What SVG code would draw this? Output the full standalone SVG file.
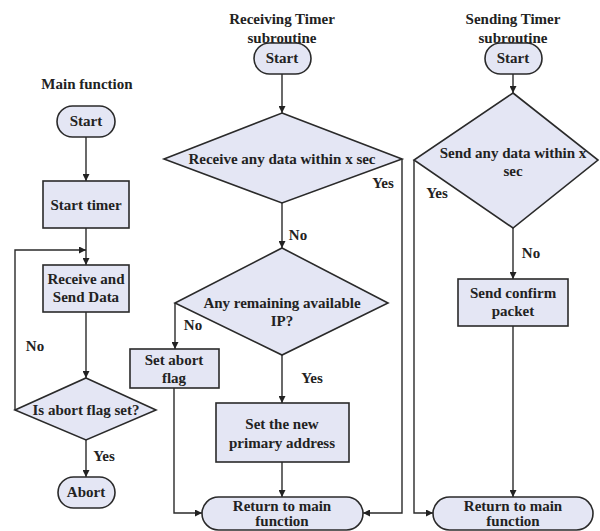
<svg xmlns="http://www.w3.org/2000/svg" width="600" height="531" viewBox="0 0 600 531">
<defs>
<marker id="ah" viewBox="0 0 10 10" refX="10" refY="5" markerWidth="7" markerHeight="7" orient="auto" markerUnits="userSpaceOnUse">
<path d="M0,0 L10,5 L0,10 z" fill="#222"/>
</marker>
<style>
.s{fill:#e4e6f4;stroke:#2a2a2a;stroke-width:1.6}
.c{fill:none;stroke:#2a2a2a;stroke-width:1.4;marker-end:url(#ah)}
text{font-family:"Liberation Serif","Times New Roman",serif;font-weight:bold;font-size:15px;fill:#222;text-anchor:middle;dominant-baseline:central}
</style>
</defs>
<rect width="600" height="531" fill="#ffffff"/>
<g id="connectors">
<path class="c" d="M86,137 V181"/>
<path class="c" d="M86,228 V265"/>
<path class="c" d="M15,410 V250 H86"/>
<path class="c" d="M86,312 V378"/>
<path class="c" d="M86,440 V477"/>
<path class="c" d="M282,74 V113"/>
<path class="c" d="M282,203 V248"/>
<path class="c" d="M175,303 V349"/>
<path class="c" d="M282,355 V403"/>
<path class="c" d="M282,462 V497"/>
<path class="c" d="M174,388 V513 H202"/>
<path class="c" d="M402,159 V513 H363"/>
<path class="c" d="M513,74 V93"/>
<path class="c" d="M513,228 V279"/>
<path class="c" d="M513,326 V497"/>
<path class="c" d="M414,160 V513 H433"/>
<text x="35" y="346">No</text>
<text x="104" y="456">Yes</text>
<text x="383" y="183">Yes</text>
<text x="298" y="235">No</text>
<text x="193" y="325">No</text>
<text x="312" y="378">Yes</text>
<text x="437" y="193">Yes</text>
<text x="531" y="253">No</text>
</g>
<g id="title-main"><text x="87" y="84">Main function</text></g>
<g id="title-recv"><text x="282" y="19">Receiving Timer</text><text x="282" y="38">subroutine</text></g>
<g id="title-send"><text x="513" y="19">Sending Timer</text><text x="513" y="38">subroutine</text></g>
<g id="main-start"><rect class="s" x="57" y="106" width="58" height="31" rx="15.5"/><text x="86" y="121">Start</text></g>
<g id="main-timer"><rect class="s" x="43" y="181" width="86" height="47"/><text x="86" y="205">Start timer</text></g>
<g id="main-recvsend"><rect class="s" x="43" y="265" width="86" height="47"/><text x="86" y="279">Receive and</text><text x="86" y="297">Send Data</text></g>
<g id="main-abortq"><polygon class="s" points="86,378 156,410 86,440 15,410"/><text x="86" y="410">Is abort flag set?</text></g>
<g id="main-abort"><rect class="s" x="58" y="477" width="57" height="31" rx="15.5"/><text x="86" y="492">Abort</text></g>
<g id="recv-start"><rect class="s" x="254" y="43" width="57" height="31" rx="15.5"/><text x="282" y="58">Start</text></g>
<g id="recv-q1"><polygon class="s" points="282,113 402,159 282,203 164,159"/><text x="282" y="159">Receive any data within x sec</text></g>
<g id="recv-q2"><polygon class="s" points="282,248 388,303 282,355 175,303"/><text x="282" y="303">Any remaining available</text><text x="282" y="321">IP?</text></g>
<g id="recv-abortflag"><rect class="s" x="130" y="349" width="89" height="39"/><text x="174" y="360">Set abort</text><text x="174" y="378">flag</text></g>
<g id="recv-newaddr"><rect class="s" x="216" y="403" width="133" height="59"/><text x="282" y="424">Set the new</text><text x="282" y="443">primary address</text></g>
<g id="recv-return"><rect class="s" x="202" y="497" width="161" height="33" rx="16.5"/><text x="282" y="506">Return to main</text><text x="282" y="521">function</text></g>
<g id="send-start"><rect class="s" x="485" y="43" width="57" height="31" rx="15.5"/><text x="513" y="58">Start</text></g>
<g id="send-q"><polygon class="s" points="513,93 598,160 513,228 414,160"/><text x="513" y="153">Send any data within x</text><text x="513" y="171">sec</text></g>
<g id="send-confirm"><rect class="s" x="458" y="279" width="110" height="47"/><text x="513" y="293">Send confirm</text><text x="513" y="311">packet</text></g>
<g id="send-return"><rect class="s" x="433" y="497" width="160" height="33" rx="16.5"/><text x="513" y="506">Return to main</text><text x="513" y="521">function</text></g>
</svg>
